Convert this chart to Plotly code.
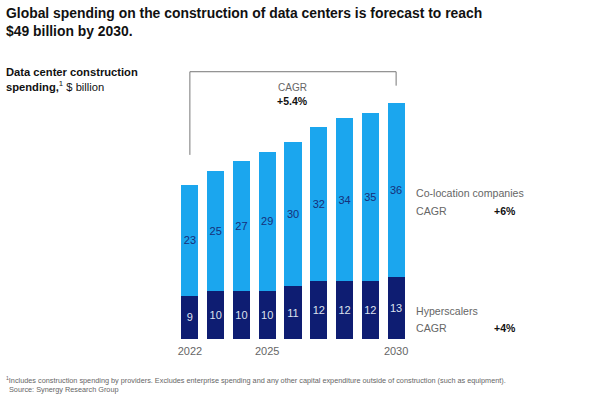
import plotly.graph_objects as go

years = [2022, 2023, 2024, 2025, 2026, 2027, 2028, 2029, 2030]
hyperscalers = [9, 10, 10, 10, 11, 12, 12, 12, 13]
colocation = [23, 25, 27, 29, 30, 32, 34, 35, 36]
tick_years = [2022, 2025, 2030]
tick_labels = ["2022", "2025", "2030"]

W, H = 600, 397
L, R_edge = 177, 409.5
base_y = 339
top_y = 65.4
YMAX = 57

LIGHT = "#1BA6EE"
DARK = "#0E1D72"
GREY = "#666666"
FONT = "Liberation Sans"

def px(x):
    return (x - L) / (R_edge - L)

def py(y):
    return (base_y - y) / (base_y - top_y)

fig = go.Figure()
fig.add_trace(go.Bar(
    x=years, y=hyperscalers, marker=dict(color=DARK, line=dict(width=0)),
    text=hyperscalers, textposition="inside", insidetextanchor="middle", textangle=0,
    constraintext="none",
    textfont=dict(color="#DDE1EE", size=11, family=FONT), name="Hyperscalers",
    hoverinfo="skip",
))
fig.add_trace(go.Bar(
    x=years, y=colocation, marker=dict(color=LIGHT, line=dict(width=0)),
    text=colocation, textposition="inside", insidetextanchor="middle", textangle=0,
    constraintext="none",
    textfont=dict(color="#16307A", size=11, family=FONT), name="Co-location companies",
    hoverinfo="skip",
))

totals = [h + c for h, c in zip(hyperscalers, colocation)]
bracket_top = 55.6
fig.add_shape(type="line", xref="x", yref="y", x0=years[0], x1=years[-1],
              y0=bracket_top, y1=bracket_top, line=dict(color="#777777", width=1))
fig.add_shape(type="line", xref="x", yref="y", x0=years[0], x1=years[0],
              y0=bracket_top, y1=totals[0] + 6.3, line=dict(color="#777777", width=1))
fig.add_shape(type="line", xref="x", yref="y", x0=years[-1], x1=years[-1],
              y0=bracket_top, y1=totals[-1] + 3.7, line=dict(color="#777777", width=1))

ann = []
def text(x, y, s, size, color="#222222", bold=False, xanchor="left", yanchor="middle"):
    if bold:
        s = "<b>" + s + "</b>"
    ann.append(dict(x=px(x), y=py(y), xref="paper", yref="paper", text=s, showarrow=False,
                    xanchor=xanchor, yanchor=yanchor, align="left",
                    font=dict(size=size, color=color, family=FONT)))

text(4, 22.5, "Global spending on the construction of data centers is forecast to reach<br>$49 billion by 2030.",
     13.9, "#111111", True)
text(4, 79.5, "<b>Data center construction</b><br><b>spending,</b><sup>1</sup> $ billion", 11.2, "#111111")
text(293, 88, "CAGR", 10, GREY, xanchor="center")
text(293, 101, "+5.4%", 10.5, "#111111", True, xanchor="center")
text(415, 193, "Co-location companies", 10.6, GREY)
text(415, 211, "CAGR", 10.6, GREY)
text(493, 211, "+6%", 10.5, "#111111", True)
text(415, 311, "Hyperscalers", 10.6, GREY)
text(415, 328, "CAGR", 10.6, GREY)
text(493, 328, "+4%", 10.5, "#111111", True)
text(4, 380, "<sup>1</sup>Includes construction spending by providers. Excludes enterprise spending and any other capital expenditure outside of construction (such as equipment).",
     7.3, GREY)
text(7, 389, "Source: Synergy Research Group", 7.3, GREY)

fig.update_layout(
    width=W, height=H, barmode="stack", bargap=0.34, showlegend=False,
    margin=dict(l=L, r=W - R_edge, t=top_y, b=H - base_y, pad=0),
    paper_bgcolor="white", plot_bgcolor="white",
    annotations=ann,
    xaxis=dict(range=[2021.5, 2030.5], tickvals=tick_years, ticktext=tick_labels,
               showgrid=False, zeroline=False, showline=False, ticks="",
               ticklabelstandoff=4,
               tickfont=dict(size=11, color=GREY, family=FONT)),
    yaxis=dict(range=[0, YMAX], visible=False, showgrid=False, zeroline=False),
)

fig.write_html("out.html", config={"displayModeBar": False},
               post_script="document.body.style.margin='0';")
